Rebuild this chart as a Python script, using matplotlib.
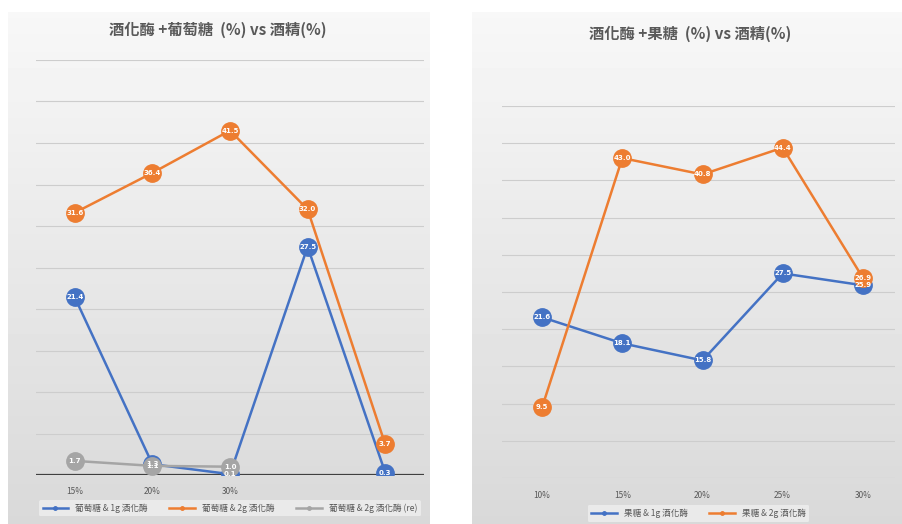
import numpy as np
import matplotlib
matplotlib.use('Agg')
import matplotlib.pyplot as plt
from matplotlib.lines import Line2D

plt.rcParams['font.family'] = ['Noto Sans CJK TC', 'DejaVu Sans']

# 左圖: 酒化酶 + 葡萄糖
glu_cats = ['15%', '20%', '30%', '', '']
glu_1g = [21.4, 1.3, 0.1, 27.5, 0.3]
glu_2g = [31.6, 36.4, 41.5, 32.0, 3.7]
glu_2g_re = [1.7, 1.1, 1.0]
glu_names = ['葡萄糖 & 1g 酒化酶', '葡萄糖 & 2g 酒化酶', '葡萄糖 & 2g 酒化酶 (re)']

# 右圖: 酒化酶 + 果糖
fru_cats = ['10%', '15%', '20%', '25%', '30%']
fru_1g = [21.6, 18.1, 15.8, 27.5, 25.9]
fru_2g = [9.5, 43.0, 40.8, 44.4, 26.9]
fru_names = ['果糖 & 1g 酒化酶', '果糖 & 2g 酒化酶']

BLUE = '#4472C4'
ORANGE = '#ED7D31'
GREY = '#A5A5A5'
TXT = '#595959'

W, H = 903, 524
fig = plt.figure(figsize=(W / 100, H / 100), dpi=100)


def px_axes(left, top, right, bottom, **kw):
    return fig.add_axes([left / W, 1 - bottom / H, (right - left) / W, (bottom - top) / H], **kw)


# 背景(照片裡的灰色漸層)
grad = np.linspace(0.97, 0.85, 256).reshape(-1, 1)
for l, r in [(8, 430), (472, 903)]:
    bg = px_axes(l, 12, r, 524, zorder=0)
    bg.imshow(grad, cmap='gray', vmin=0, vmax=1, aspect='auto', extent=(0, 1, 0, 1))
    bg.axis('off')


def draw(ax, cats, series, colors, names, xlim, dark_base, leg_y):
    ax.set_facecolor('none')
    for vals, c in zip(series, colors):
        x = np.arange(len(vals))
        ax.plot(x, vals, color=c, lw=1.8, marker='o', ms=12.5, mfc=c, mec=c, zorder=3)
        for xi, v in zip(x, vals):
            ax.text(xi, v, f'{v:.1f}', color='white', fontsize=5, fontweight='bold',
                    ha='center', va='center', zorder=4, family='DejaVu Sans')
    ax.set_xlim(*xlim)
    ax.set_ylim(0, 50)
    ax.set_yticks(np.arange(0, 51, 5))
    ax.set_yticklabels([])
    ax.grid(axis='y', color='#cdcdcd', lw=0.8)
    ax.set_axisbelow(True)
    ax.set_xticks(range(len(cats)))
    ax.set_xticklabels(cats, fontsize=6, color=TXT)
    ax.tick_params(length=0, pad=9)
    for s in ax.spines.values():
        s.set_visible(False)
    ax.axhline(0, color='#404040' if dark_base else '#cdcdcd', lw=1.6 if dark_base else 0.8, zorder=2)
    handles = [Line2D([], [], color=c, lw=1.8, marker='o', ms=2.5) for c in colors]
    leg = ax.legend(handles, names, loc='upper center', bbox_to_anchor=(0.5, leg_y), ncol=len(names),
                    fontsize=6.2, frameon=True, facecolor='white', framealpha=0.45, edgecolor='none',
                    handlelength=3, columnspacing=2.5, borderpad=0.4)
    for t in leg.get_texts():
        t.set_color(TXT)


ax1 = px_axes(36, 60, 424, 475, zorder=1)
draw(ax1, glu_cats, [glu_1g, glu_2g, glu_2g_re], [BLUE, ORANGE, GREY], glu_names, (-0.5, 4.5), True, -0.05)
fig.text(218 / W, 1 - 30 / H, '酒化酶 +葡萄糖  (%) vs 酒精(%)', ha='center', va='center',
         fontsize=11, fontweight='bold', color=TXT)

ax2 = px_axes(502, 106, 895, 478, zorder=1)
draw(ax2, fru_cats, [fru_1g, fru_2g], [BLUE, ORANGE], fru_names, (-0.5, 4.4), False, -0.062)
fig.text(690 / W, 1 - 34 / H, '酒化酶 +果糖  (%) vs 酒精(%)', ha='center', va='center',
         fontsize=11, fontweight='bold', color=TXT)

fig.savefig('out.png', dpi=100)
